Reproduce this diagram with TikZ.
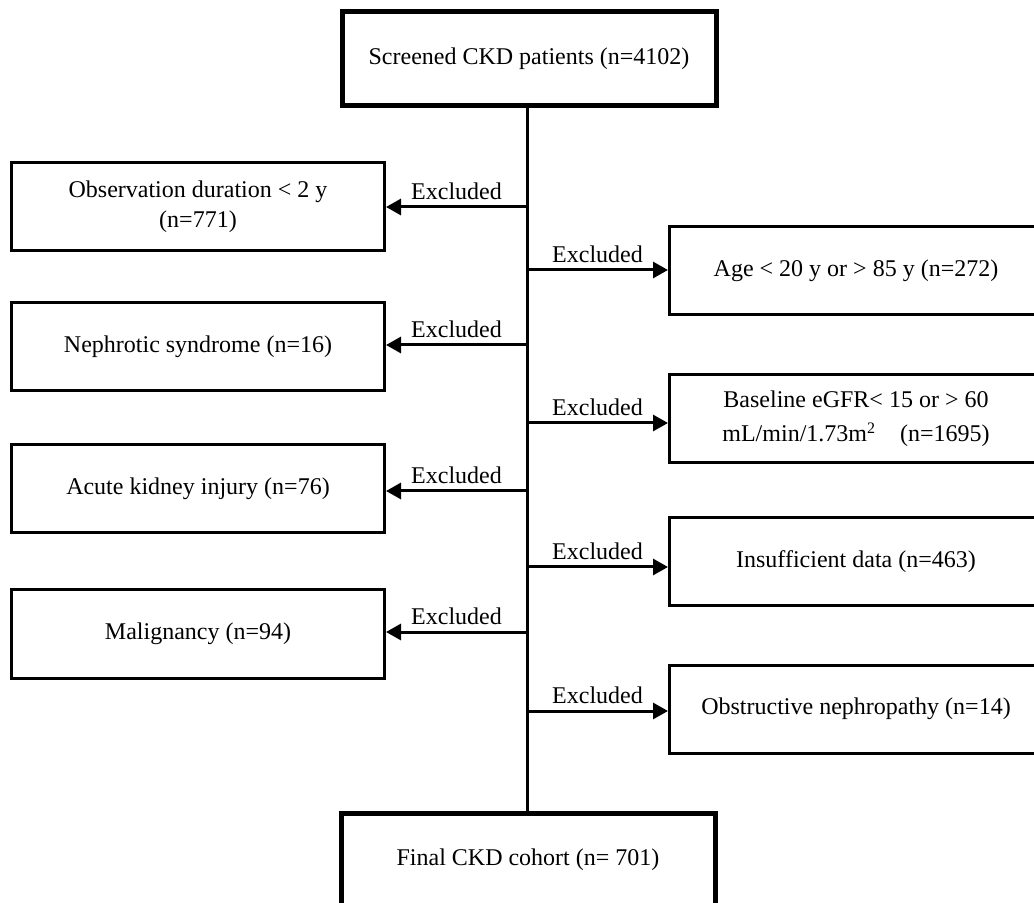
\documentclass[tikz,border=0pt]{standalone}
\usepackage{fontspec}
\setmainfont{Liberation Serif}
\usetikzlibrary{arrows.meta}

\tikzset{
    mainbox/.style={draw, line width=2.5pt, minimum width=187pt, minimum height=47pt,
        align=center, font=\fontsize{12}{15}\selectfont},
    exbox/.style={draw, line width=1.5pt, minimum width=186.5pt, minimum height=44pt,
        align=center, font=\fontsize{12}{15}\selectfont},
    excl/.style={-{Triangle[length=7.5pt,width=8pt]}, line width=1.5pt},
    lab/.style={above, inner sep=3pt, font=\fontsize{12}{14}\selectfont},
}

\begin{document}
\begin{tikzpicture}[x=0.5pt,y=-0.5pt]
    \useasboundingbox (0,0) rectangle (1034,903);

    \node[mainbox] (screen) at (529,58.5) {Screened CKD patients (n=4102)};
    \node[mainbox, minimum height=46.5pt] (final) at (528,860) {Final CKD cohort (n= 701)};

    \node[exbox] (obs) at (198,207) {Observation duration < 2 y\\(n=771)};
    \node[exbox] (neph) at (198,347) {Nephrotic syndrome (n=16)};
    \node[exbox] (aki) at (198,489) {Acute kidney injury (n=76)};
    \node[exbox] (malig) at (198,634) {Malignancy (n=94)};

    \node[exbox] (age) at (856,270.5) {Age < 20 y or > 85 y (n=272)};
    \node[exbox] (egfr) at (856,419) {Baseline eGFR< 15 or > 60\\[2pt]mL/min/1.73m\textsuperscript{2}\quad(n=1695)};
    \node[exbox] (data) at (856,561.5) {Insufficient data (n=463)};
    \node[exbox] (obst) at (856,709) {Obstructive nephropathy (n=14)};

    \coordinate (L1) at (527,207);
    \coordinate (L2) at (527,345);
    \coordinate (L3) at (527,491);
    \coordinate (L4) at (527,632);
    \coordinate (R1) at (527,270);
    \coordinate (R2) at (527,423);
    \coordinate (R3) at (527,567);
    \coordinate (R4) at (527,711);

    \draw[line width=1.5pt] (screen.south -| L1) -- (final.north -| L1);

    \draw[excl] (L1) -- (obs.east |- L1) node[lab, midway] {Excluded};
    \draw[excl] (L2) -- (neph.east |- L2) node[lab, midway] {Excluded};
    \draw[excl] (L3) -- (aki.east |- L3) node[lab, midway] {Excluded};
    \draw[excl] (L4) -- (malig.east |- L4) node[lab, midway] {Excluded};

    \draw[excl] (R1) -- (age.west |- R1) node[lab, midway] {Excluded};
    \draw[excl] (R2) -- (egfr.west |- R2) node[lab, midway] {Excluded};
    \draw[excl] (R3) -- (data.west |- R3) node[lab, midway] {Excluded};
    \draw[excl] (R4) -- (obst.west |- R4) node[lab, midway] {Excluded};

\end{tikzpicture}
\end{document}
